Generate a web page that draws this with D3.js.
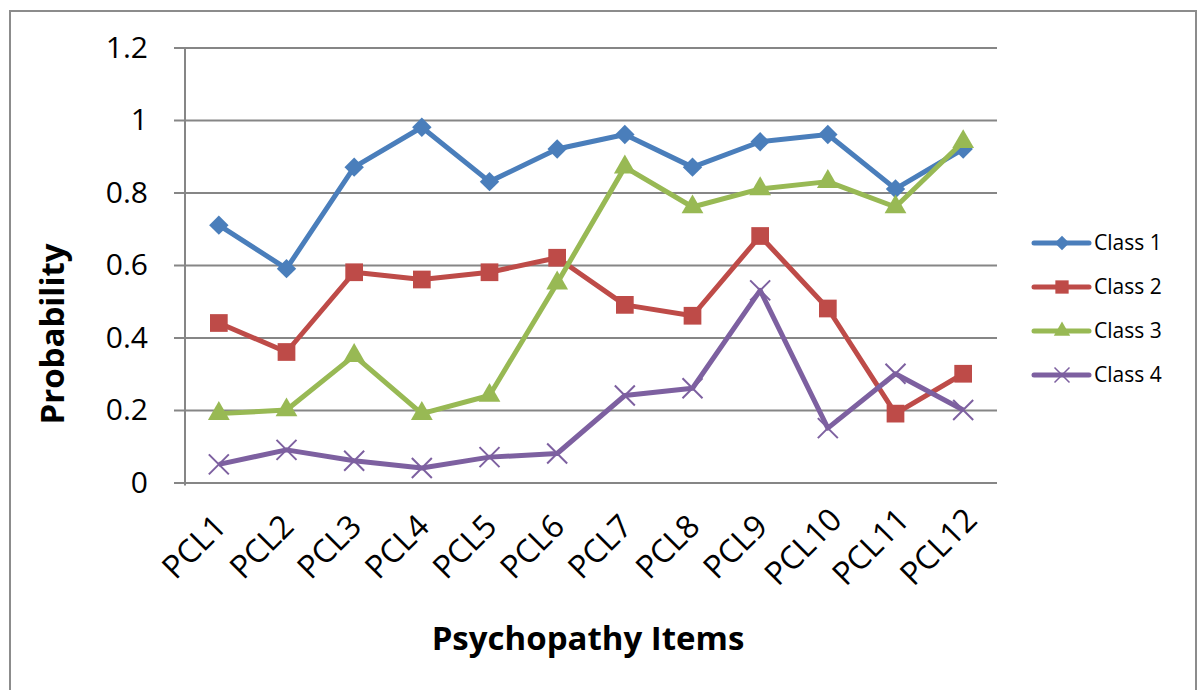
<!DOCTYPE html>
<html>
<head>
<meta charset="utf-8">
<script src="https://cdn.jsdelivr.net/npm/d3@7"></script>
<style>
  body { margin: 0; background: #fff; }
  text { font-family: "Open Sans", "DejaVu Sans", sans-serif; }
</style>
</head>
<body>
<svg></svg>
<script>
// data
var items = ['PCL1','PCL2','PCL3','PCL4','PCL5','PCL6','PCL7','PCL8','PCL9','PCL10','PCL11','PCL12']
var class1 = [0.71, 0.59, 0.87, 0.98, 0.83, 0.92, 0.96, 0.87, 0.94, 0.96, 0.81, 0.92]
var class2 = [0.44, 0.36, 0.58, 0.56, 0.58, 0.62, 0.49, 0.46, 0.68, 0.48, 0.19, 0.30]
var class3 = [0.19, 0.20, 0.35, 0.19, 0.24, 0.55, 0.87, 0.76, 0.81, 0.83, 0.76, 0.94]
var class4 = [0.05, 0.09, 0.06, 0.04, 0.07, 0.08, 0.24, 0.26, 0.53, 0.15, 0.30, 0.20]
var seriesNames = ['Class 1', 'Class 2', 'Class 3', 'Class 4']
var yTicks = [0, 0.2, 0.4, 0.6, 0.8, 1, 1.2]

var series = [
  {name: seriesNames[0], values: class1, color: '#4a7ebb', symbol: 'diamond'},
  {name: seriesNames[1], values: class2, color: '#be4b48', symbol: 'square'},
  {name: seriesNames[2], values: class3, color: '#98b954', symbol: 'triangle'},
  {name: seriesNames[3], values: class4, color: '#7d60a0', symbol: 'x'}
]

var width = 1202
var height = 690
var plotLeft = 185, plotRight = 997, plotTop = 47.5, plotBottom = 482.5

var svg = d3.select('svg')
  .attr('width', width)
  .attr('height', height)

// outer chart frame
svg.append('rect')
  .attr('x', 10).attr('y', 11)
  .attr('width', 1186).attr('height', 700)
  .attr('fill', 'none')
  .attr('stroke', '#8c8c8c')
  .attr('stroke-width', 2)

var xScale = d3.scaleBand()
  .domain(items)
  .range([plotLeft, plotRight])

var yScale = d3.scaleLinear()
  .domain([0, 1.2])
  .range([plotBottom, plotTop])

// gridlines + y axis
var yAxis = d3.axisLeft(yScale)
  .tickValues(yTicks)
  .tickFormat(d => String(+d.toFixed(1)))
  .tickSize(-(plotRight - plotLeft))
  .tickPadding(37)

var gy = svg.append('g')
  .attr('transform', `translate(${plotLeft},0)`)
  .call(yAxis)
gy.select('.domain').remove()
gy.selectAll('.tick line')
  .attr('x1', -11)
  .attr('stroke', '#868686')
  .attr('stroke-width', 2)
gy.selectAll('.tick text')
  .attr('font-size', 30)
  .attr('fill', '#000')
  .style('font-family', 'Open Sans, sans-serif')

// vertical axis line
svg.append('line')
  .attr('x1', plotLeft).attr('x2', plotLeft)
  .attr('y1', plotTop).attr('y2', plotBottom + 3)
  .attr('stroke', '#868686')
  .attr('stroke-width', 2)

// category labels
var xAxis = d3.axisBottom(xScale).tickSize(0)
var gx = svg.append('g')
  .attr('transform', `translate(0,${plotBottom})`)
  .call(xAxis)
gx.select('.domain').remove()
gx.selectAll('.tick text')
  .attr('font-size', 32)
  .attr('fill', '#000')
  .style('font-family', 'Open Sans, sans-serif')
  .attr('text-anchor', 'middle')
  .attr('y', 0)
  .attr('dy', 0)
  .attr('transform', 'translate(-17,72) rotate(-45)')

// axis titles
svg.append('text')
  .attr('transform', 'translate(64,334) rotate(-90)')
  .attr('text-anchor', 'middle')
  .attr('font-size', 33)
  .attr('font-weight', 'bold')
  .text('Probability')

svg.append('text')
  .attr('x', 588)
  .attr('y', 650)
  .attr('text-anchor', 'middle')
  .attr('font-size', 33)
  .attr('font-weight', 'bold')
  .text('Psychopathy Items')

var cx = d => xScale(d) + xScale.bandwidth() / 2

var line = d3.line()
  .x((d, i) => cx(items[i]))
  .y(d => yScale(d))

function drawMarker(g, symbol, color) {
  if (symbol === 'x') {
    g.append('path')
      .attr('d', 'M-10,-10L10,10M-10,10L10,-10')
      .attr('stroke', color)
      .attr('stroke-width', 2)
      .attr('fill', 'none')
  } else {
    var t = {diamond: d3.symbolDiamond2, square: d3.symbolSquare2, triangle: d3.symbolTriangle2}[symbol]
    var size = {diamond: 240, square: 400, triangle: 340}[symbol]
    g.append('path')
      .attr('d', d3.symbol().type(t).size(size)())
      .attr('fill', color)
  }
}

series.forEach(s => {
  svg.append('path')
    .datum(s.values)
    .attr('d', line)
    .attr('fill', 'none')
    .attr('stroke', s.color)
    .attr('stroke-width', 5)
    .attr('stroke-linejoin', 'round')

  svg.append('g')
    .selectAll('g')
    .data(s.values)
    .enter()
    .append('g')
      .attr('transform', (d, i) => `translate(${cx(items[i])},${yScale(d)})`)
      .each(function() { drawMarker(d3.select(this), s.symbol, s.color) })
})

// legend
var legend = svg.append('g')
  .selectAll('g')
  .data(series)
  .enter()
  .append('g')
    .attr('transform', (d, i) => `translate(1034,${243 + i * 44})`)

legend.append('line')
  .attr('x1', 0).attr('x2', 55)
  .attr('stroke', d => d.color)
  .attr('stroke-width', 5)
  .attr('stroke-linecap', 'round')

legend.append('g')
  .attr('transform', 'translate(28,0) scale(0.75)')
  .each(function(d) { drawMarker(d3.select(this), d.symbol, d.color) })

legend.append('text')
  .attr('x', 60)
  .attr('y', 7)
  .attr('font-size', 21)
  .text(d => d.name)
</script>
</body>
</html>
